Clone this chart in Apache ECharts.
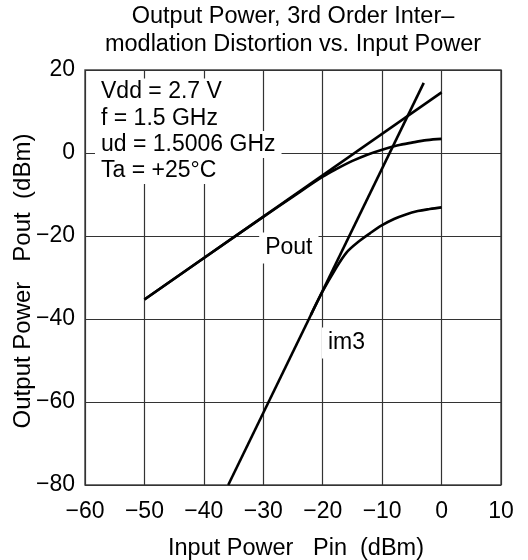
<!DOCTYPE html>
<html>
<head>
<meta charset="utf-8">
<script src="https://cdn.jsdelivr.net/npm/echarts@6/dist/echarts.min.js"></script>
<style>
html,body{margin:0;padding:0;background:#fff;}
#c{width:528px;height:560px;}
</style>
</head>
<body>
<div id="c"></div>
<script>
// ---- data ----
const titleLines = ['Output Power, 3rd Order Inter\u2013', 'modlation Distortion vs. Input Power'];
const xAxisName = 'Input Power   Pin  (dBm)';
const yAxisName = 'Output Power   Pout  (dBm)';
const conditions = ['Vdd = 2.7 V', 'f = 1.5 GHz', 'ud = 1.5006 GHz', 'Ta = +25\u00B0C'];

// Pout (measured, with compression)
const poutX = [-50, -40, -30, -25, -20, -17.5, -15, -12.5, -10, -7.5, -5, -2.5, 0];
const poutY = [-35.3, -25.3, -15.4, -10.5, -5.7, -3.7, -1.9, -0.4, 0.8, 1.8, 2.5, 3.1, 3.4];
// Pout linear extrapolation
const poutLinX = [-50, 0];
const poutLinY = [-35.3, 14.6];
// im3 (measured, with compression)
const im3X = [-22, -20, -18, -16, -14, -12, -10, -8, -6, -4, -2, 0];
const im3Y = [-39.0, -33.3, -28.3, -24.0, -21.4, -19.3, -17.4, -15.9, -14.8, -14.0, -13.5, -13.1];
// im3 linear extrapolation
const im3LinX = [-35.9, -3];
const im3LinY = [-80, 16.9];

const xMin = -60, xMax = 10, xStep = 10;
const yMin = -80, yMax = 20, yStep = 20;

const curveLabels = [
  { text: 'Pout', x: -25.7, y: -22.9 },
  { text: 'im3', x: -16.0, y: -45.8 }
];

function pairs(xs, ys) { return xs.map((x, i) => [x, ys[i]]); }
const fmt = v => String(v).replace('-', '\u2212');

const FONT = '"Liberation Sans", Arial, Helvetica, sans-serif';
const FS = 23;

const chart = echarts.init(document.getElementById('c'), null, { renderer: 'canvas' });

const lineStyle = { color: '#000', width: 2.6 };

const option = {
  animation: false,
  backgroundColor: '#fff',
  textStyle: { fontFamily: FONT },
  grid: {
    left: 85, right: 27, top: 70, bottom: 75,
    containLabel: false, outerBoundsMode: 'none',
    show: true, borderColor: '#444', borderWidth: 1.4, backgroundColor: 'transparent'
  },
  xAxis: {
    type: 'value', min: xMin, max: xMax, interval: xStep,
    name: xAxisName, nameLocation: 'middle', nameGap: 52, nameMoveOverlap: false,
    nameTextStyle: { fontFamily: FONT, fontSize: 23.5, color: '#000', padding: [0, 0, 0, 6] },
    axisLine: { show: false },
    axisTick: { show: false },
    axisLabel: { fontFamily: FONT, fontSize: FS, color: '#000', margin: 15, formatter: fmt },
    splitLine: { show: true, lineStyle: { color: '#333', width: 1.2 } }
  },
  yAxis: {
    type: 'value', min: yMin, max: yMax, interval: yStep,
    name: yAxisName, nameLocation: 'middle', nameGap: 50, nameRotate: 90, nameMoveOverlap: false,
    nameTextStyle: { fontFamily: FONT, fontSize: 24, color: '#000', padding: [0, 7, 0, 0] },
    axisLine: { show: false },
    axisTick: { show: false },
    axisLabel: { fontFamily: FONT, fontSize: FS, color: '#000', margin: 10, formatter: fmt },
    splitLine: { show: true, lineStyle: { color: '#333', width: 1.2 } }
  },
  series: [
    { name: 'Pout', type: 'line', data: pairs(poutX, poutY), smooth: 0.35, showSymbol: false, lineStyle, z: 5 },
    { name: 'Pout linear', type: 'line', data: pairs(poutLinX, poutLinY), showSymbol: false, lineStyle, z: 5 },
    { name: 'im3', type: 'line', data: pairs(im3X, im3Y), smooth: 0.35, showSymbol: false, lineStyle, z: 5 },
    { name: 'im3 linear', type: 'line', data: pairs(im3LinX, im3LinY), showSymbol: false, lineStyle, z: 5 }
  ]
};
chart.setOption(option);

// title and annotations (text with white backgrounds hiding grid lines)
const graphics = [];
titleLines.forEach((t, i) => {
  graphics.push({
    type: 'text', x: 293, y: 17 + i * 28, z: 10,
    style: { text: t, font: `23.5px ${FONT}`, fill: '#000', align: 'center', verticalAlign: 'middle' }
  });
});
const condX = 95, condY0 = 92, condStep = 26.2;
conditions.forEach((t, i) => {
  graphics.push({
    type: 'text', x: condX, y: condY0 + i * condStep, z: 10,
    style: { text: t, font: `${FS}px ${FONT}`, fill: '#000', align: 'left', verticalAlign: 'middle',
             backgroundColor: '#fff', padding: [2, 6, 2, 6] }
  });
});
curveLabels.forEach(l => {
  const p = chart.convertToPixel({ gridIndex: 0 }, [l.x, l.y]);
  graphics.push({
    type: 'text', x: p[0], y: p[1], z: 10,
    style: { text: l.text, font: `${FS}px ${FONT}`, fill: '#000', align: 'center', verticalAlign: 'middle',
             backgroundColor: '#fff', padding: [4, 6, 4, 6] }
  });
});
chart.setOption({ graphic: graphics });
</script>
</body>
</html>
